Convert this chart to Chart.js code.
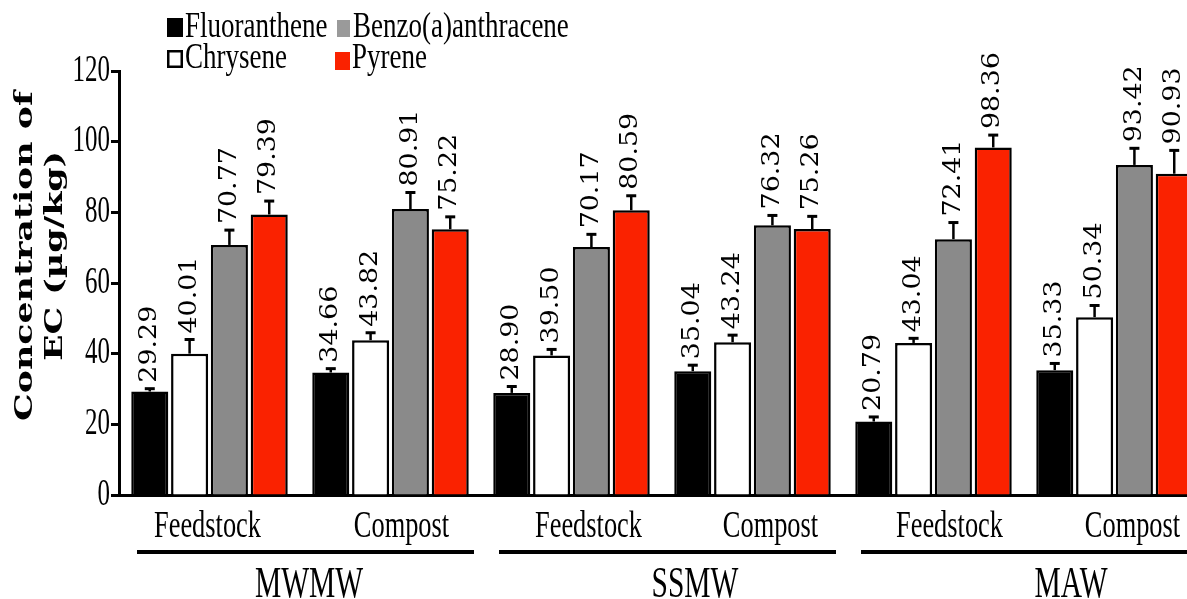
<!DOCTYPE html>
<html>
<head>
<meta charset="utf-8">
<script src="https://cdn.jsdelivr.net/npm/chart.js@4.4.0/dist/chart.umd.min.js"></script>
<style>
  html, body { margin: 0; padding: 0; background: #fff; overflow: hidden; width: 1187px; height: 599px; }
  #wrap { width: 1187px; height: 599px; overflow: hidden; }
</style>
</head>
<body>
<div id="wrap"><canvas id="chart" width="1207" height="599"></canvas></div>
<script>
// data
var categories = ['Feedstock', 'Compost', 'Feedstock', 'Compost', 'Feedstock', 'Compost']
var groups = ['MWMW', 'SSMW', 'MAW']
var seriesNames = ['Fluoranthene', 'Chrysene', 'Benzo(a)anthracene', 'Pyrene']

var fluoranthene = [29.29, 34.66, 28.90, 35.04, 20.79, 35.33]
var chrysene = [40.01, 43.82, 39.50, 43.24, 43.04, 50.34]
var benzo = [70.77, 80.91, 70.17, 76.32, 72.41, 93.42]
var pyrene = [79.39, 75.22, 80.59, 75.26, 98.36, 90.93]

var fluorErr = [0.8, 1.1, 1.8, 1.7, 1.3, 1.9]
var chryErr = [4.0, 2.1, 1.7, 2.0, 1.3, 3.3]
var benzErr = [4.2, 4.7, 3.6, 2.8, 4.7, 4.7]
var pyrErr = [3.8, 3.5, 4.1, 3.6, 3.5, 6.6]

var yTicks = [0, 20, 40, 60, 80, 100, 120]

var fills = ['#000000', '#ffffff', '#8a8a8a', '#fa2200']
var legendFills = ['#000000', '#ffffff', '#9a9a9a', '#fa2200']

var values = [fluoranthene, chrysene, benzo, pyrene]
var errors = [fluorErr, chryErr, benzErr, pyrErr]

// text squashed like the original (figure was stretched vertically)
function stretchText(ctx, text, x, y, font, sy, rot, align, base) {
    ctx.save()
    ctx.translate(x, y)
    ctx.scale(1, sy)
    if (rot) ctx.rotate(rot)
    ctx.font = font
    ctx.textAlign = align
    ctx.textBaseline = base
    ctx.fillStyle = '#000'
    ctx.fillText(text, 0, 0)
    ctx.restore()
}

var decor = {
    id: 'decor',
    afterDatasetsDraw(chart) {
        var ctx = chart.ctx
        var y = chart.scales.y
        chart.data.datasets.forEach((ds, di) => {
            var meta = chart.getDatasetMeta(di)
            meta.data.forEach((bar, i) => {
                var top = y.getPixelForValue(ds.data[i])
                var cap = y.getPixelForValue(ds.data[i] + errors[di][i])
                ctx.save()
                ctx.strokeStyle = '#000'
                ctx.lineWidth = 2.5
                ctx.beginPath()
                ctx.moveTo(bar.x, top)
                ctx.lineTo(bar.x, cap)
                ctx.stroke()
                ctx.lineWidth = 3
                ctx.beginPath()
                ctx.moveTo(bar.x - 5, cap)
                ctx.lineTo(bar.x + 5, cap)
                ctx.stroke()
                ctx.restore()
                stretchText(ctx, ds.data[i].toFixed(2), bar.x, cap - 6,
                    '24px "DejaVu Serif"', 1.12, -Math.PI / 2, 'left', 'middle')
            })
        })
    },
    afterDraw(chart) {
        var ctx = chart.ctx
        var x = chart.scales.x
        var y = chart.scales.y
        var area = chart.chartArea

        // y tick labels
        yTicks.forEach((t) => {
            stretchText(ctx, String(t), area.left - 9, y.getPixelForValue(t),
                '25px "Liberation Serif"', 1.48, 0, 'right', 'middle')
        })

        // sub category labels
        var nudge = [-2, 11, 17, 18, 16, 18]
        var half = (x.getPixelForValue(1) - x.getPixelForValue(0)) / 2
        categories.forEach((c, i) => {
            stretchText(ctx, c, x.getPixelForValue(i) + nudge[i], 537,
                '26.4px "Liberation Serif"', 1.43, 0, 'center', 'alphabetic')
        })

        // group underline + names
        var gNudge = [9, 33, 47]
        groups.forEach((g, gi) => {
            var l = x.getPixelForValue(gi * 2) - half + 18
            var r = x.getPixelForValue(gi * 2 + 1) + half - 7
            ctx.save()
            ctx.fillStyle = '#000'
            ctx.fillRect(l, 550, r - l, 4)
            ctx.restore()
            var c = (x.getPixelForValue(gi * 2) + x.getPixelForValue(gi * 2 + 1)) / 2
            stretchText(ctx, g, c + gNudge[gi], 597,
                '29.5px "Liberation Serif"', 1.49, 0, 'center', 'alphabetic')
        })

        // y axis title
        stretchText(ctx, 'Concentration of', 32, 256,
            'bold 24.5px "DejaVu Serif"', 1.42, -Math.PI / 2, 'center', 'alphabetic')
        stretchText(ctx, 'EC (\u00b5g/kg)', 62, 256,
            'bold 24.5px "DejaVu Serif"', 1.42, -Math.PI / 2, 'center', 'alphabetic')

        // legend, two columns
        var spots = [
            {bx: 167, by: 18, bw: 16, bh: 19, tx: 185, ty: 37},
            {bx: 167, by: 50, bw: 16, bh: 18, tx: 185, ty: 68},
            {bx: 337, by: 20, bw: 13, bh: 17, tx: 353, ty: 37},
            {bx: 335, by: 52, bw: 15, bh: 18, tx: 352, ty: 68}
        ]
        seriesNames.forEach((name, i) => {
            var s = spots[i]
            ctx.save()
            ctx.fillStyle = legendFills[i]
            ctx.fillRect(s.bx, s.by, s.bw, s.bh)
            if (i == 1) {
                ctx.strokeStyle = '#000'
                ctx.lineWidth = 2.5
                ctx.strokeRect(s.bx + 1.25, s.by + 1.25, s.bw - 2.5, s.bh - 2.5)
            }
            ctx.restore()
            stretchText(ctx, name, s.tx, s.ty,
                '27px "Liberation Serif"', 1.35, 0, 'left', 'alphabetic')
        })
    }
}

var ctx = document.getElementById('chart').getContext('2d')

var datasets = seriesNames.map((name, i) => ({
    label: name,
    data: values[i],
    backgroundColor: fills[i],
    borderColor: '#000',
    borderWidth: 2.5,
    categoryPercentage: 0.88,
    barPercentage: 0.93
}))

var myChart = new Chart(ctx, {
    type: 'bar',
    data: {
        labels: categories,
        datasets: datasets
    },
    options: {
        responsive: false,
        animation: false,
        devicePixelRatio: 1,
        layout: {
            padding: {top: 71, left: 111, right: 2, bottom: 104}
        },
        plugins: {
            legend: {display: false},
            tooltip: {enabled: false}
        },
        scales: {
            x: {
                ticks: {display: false},
                grid: {display: true, drawOnChartArea: false, drawTicks: false},
                border: {display: true, color: '#000', width: 3}
            },
            y: {
                min: 0,
                max: 120,
                ticks: {display: false, stepSize: 20},
                grid: {display: true, drawOnChartArea: false, drawTicks: true, tickLength: 8, tickWidth: 3, tickColor: '#000'},
                border: {display: true, color: '#000', width: 3}
            }
        }
    },
    plugins: [decor]
})
</script>
</body>
</html>
